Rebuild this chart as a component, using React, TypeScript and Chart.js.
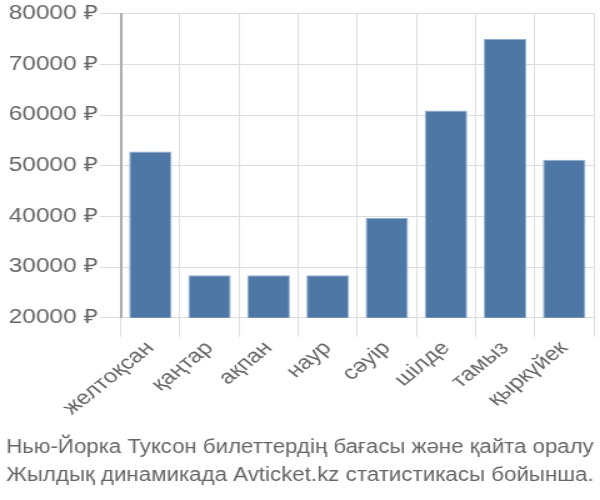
import React, { useEffect, useRef } from "react";
import { Chart, registerables } from "chart.js";

Chart.register(...registerables);

const categories = ["желтоқсан", "қаңтар", "ақпан", "наур", "сәуір", "шілде", "тамыз", "қыркүйек"];
const prices = [52800, 28400, 28400, 28400, 39700, 60900, 75000, 51200];
const titleLines = [
  "Нью-Йорка Туксон билеттердің бағасы және қайта оралу",
  "Жылдық динамикада Avticket.kz статистикасы бойынша.",
];

const STRETCH = 1.25;
const W = 600 / STRETCH;

export default function App() {
  const ref = useRef<HTMLCanvasElement | null>(null);
  useEffect(() => {
    document.body.style.margin = "0";
    const font = "'Liberation Sans', Arial, sans-serif";
    const chart = new Chart(ref.current!, {
      type: "bar",
      data: {
        labels: categories,
        datasets: [
          {
            data: prices,
            backgroundColor: "#4e77a5",
            borderColor: "#8eaed3",
            borderWidth: 1,
          },
        ],
      },
      options: {
        animation: false,
        responsive: false,
        maintainAspectRatio: false,
        layout: { padding: { top: 7, right: 5, left: 5, bottom: 10 } },
        plugins: {
          legend: { display: false },
          tooltip: { enabled: false },
          title: {
            display: true,
            position: "bottom",
            text: titleLines,
            color: "#666",
            font: { family: font, size: 19.5, weight: "normal", lineHeight: 1.44 },
            padding: { top: 4, bottom: 0 },
          },
        },
        scales: {
          x: {
            grid: { color: "#dddddd", tickLength: 19, offset: true },
            border: { color: "#dddddd" },
            afterFit: (scale: any) => {
              scale.height += 10;
            },
            ticks: {
              color: "#666",
              font: { family: font, size: 19.5 },
              maxRotation: 45,
              minRotation: 45,
              padding: 0,
            },
          },
          y: {
            min: 20000,
            max: 80000,
            grid: { color: "#dddddd", tickLength: 17 },
            border: { color: "#aaaaaa", width: 2 },
            ticks: {
              stepSize: 10000,
              color: "#666",
              font: { family: font, size: 19.5 },
              padding: 2,
              callback: (v: any) => v + " ₽",
            },
          },
        },
      },
    });
    return () => chart.destroy();
  }, []);
  return (
    <div style={{ width: W, height: 500, transform: `scaleX(${STRETCH})`, transformOrigin: "0 0" }}>
      <canvas ref={ref} width={W} height={500} style={{ width: W, height: 500, display: "block" }} />
    </div>
  );
}
